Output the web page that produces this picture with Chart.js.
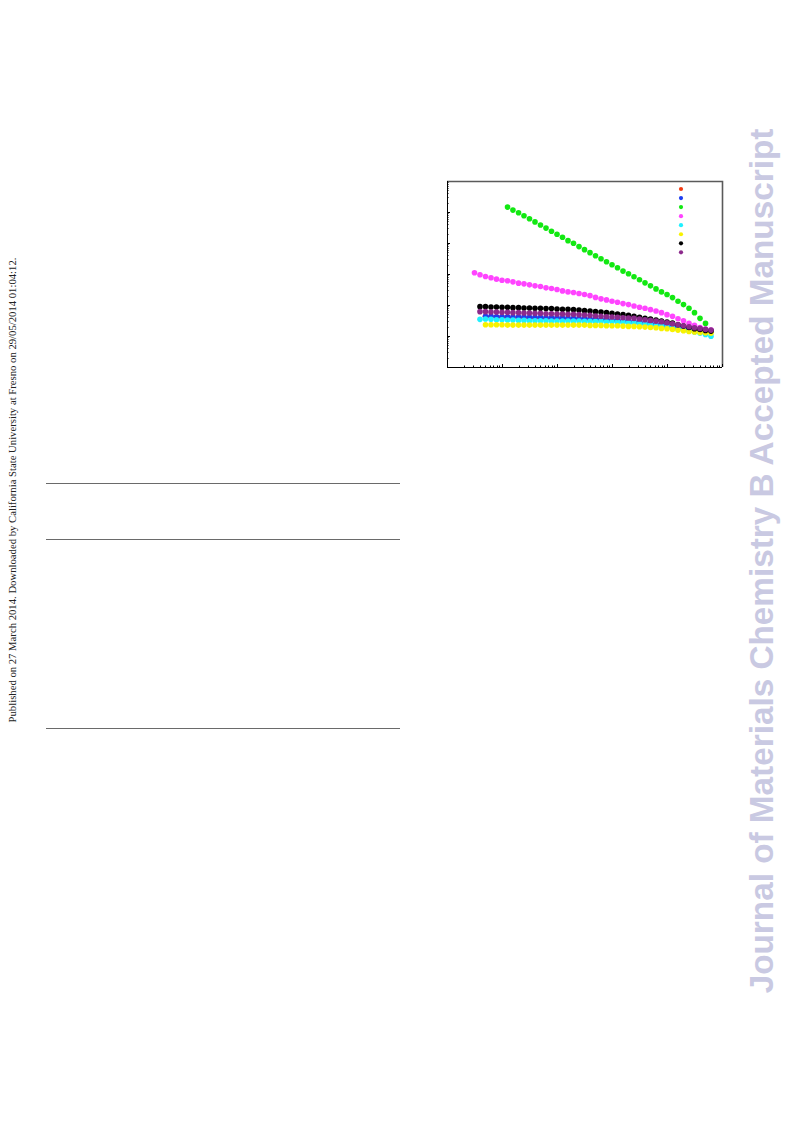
<!DOCTYPE html>
<html>
<head>
<meta charset="utf-8">
<script src="https://cdn.jsdelivr.net/npm/chart.js@4.4.0/dist/chart.umd.min.js"></script>
<style>
  body { margin: 0; background: #fff; width: 793px; height: 1123px; position: relative; overflow: hidden; }
  .rot { position: absolute; white-space: nowrap; transform: translate(-50%, -50%) rotate(-90deg); }
  #pub { left: 12px; top: 490px; font: 10.7px "Liberation Serif", "Times New Roman", serif; color: #222; }
  #journal { left: 762px; top: 561px; font: bold 33.3px "Liberation Sans", Arial, sans-serif; color: #c9c9e2; }
  .rule { position: absolute; left: 46px; width: 354px; height: 0; border-top: 1px solid #6a6a6a; }
  #wrap { position: absolute; left: 437px; top: 171px; }
</style>
</head>
<body>
<div id="pub" class="rot">Published on 27 March 2014. Downloaded by California State University at Fresno on 29/05/2014 01:04:12.</div>
<div id="journal" class="rot">Journal of Materials Chemistry B Accepted Manuscript</div>
<div class="rule" style="top:483px"></div>
<div class="rule" style="top:539px"></div>
<div class="rule" style="top:728px"></div>
<div id="wrap"><canvas id="canvas1" width="295" height="206"></canvas></div>
<script>
// frequency grid, 10 points per decade
var freq = [31.6, 39.8, 50.1, 63.1, 79.4, 100, 126, 158, 200, 251, 316, 398, 501, 631, 794,
    1000, 1259, 1585, 1995, 2512, 3162, 3981, 5012, 6310, 7943,
    10000, 12589, 15849, 19953, 25119, 31623, 39811, 50119, 63096, 79433,
    100000, 125893, 158489, 199526, 251189, 316228, 398107, 501187, 630957];

var seriesColors = ["#f23a12", "#1d3df0", "#12e812", "#ff44ff", "#1ff0ff", "#f8f200", "#000000", "#8c2a8c"];
var seriesStart = [2, 2, 6, 0, 1, 2, 1, 1];

var redVals = [42.0, 41.5, 41.0, 40.5, 40.0, 39.6, 39.2, 38.8, 38.4, 38.0, 37.6, 37.2, 36.8, 36.4, 36.0,
    35.6, 35.2, 34.8, 34.4, 34.0, 33.4, 32.8, 32.1, 31.3, 30.5, 29.6, 28.6, 27.5, 26.4, 25.2,
    24.0, 22.9, 21.8, 20.7, 19.7, 18.7, 17.8, 16.9, 16.1, 15.4, 14.8, 14.3];
var blueVals = [43.1, 43.1, 42.0, 42.0, 42.0, 40.9, 40.9, 40.9, 39.9, 39.9, 39.9, 38.9, 38.9, 38.9, 38.0,
    38.0, 37.1, 37.1, 36.1, 36.1, 35.2, 34.4, 33.6, 32.7, 31.9, 31.1, 30.3, 28.9, 28.2, 26.8,
    25.5, 24.3, 23.1, 22.0, 20.9, 19.9, 18.9, 18.0, 17.1, 16.3, 15.5, 14.8];
var greenVals = [144000, 115000, 94400, 75900, 60300, 47900, 38000, 30200, 24000, 19100,
    15300, 11900, 9800, 7640, 6100, 4880, 3900, 3110, 2490, 1990,
    1590, 1240, 1020, 811, 649, 519, 415, 331, 265, 217,
    173, 132, 103, 78.2, 56.6, 37.1, 25.5];
var magentaVals = [1094, 942, 832, 753, 682, 632, 603, 558, 506, 481, 447, 415, 394, 357, 340,
    316, 285, 265, 252, 234, 218, 200, 176, 158, 146, 132, 122, 111, 103, 93.1,
    84.3, 78.2, 70.8, 64.1, 56.6, 48.8, 43.1, 36.1, 31.1, 25.5, 22.0, 18.9, 16.7, 15.5];
var cyanVals = [34.4, 35.2, 34.4, 33.6, 33.6, 32.7, 32.7, 31.9, 31.9, 31.1, 31.1, 31.1, 31.1, 30.3, 30.3,
    30.3, 30.3, 30.3, 30.3, 29.6, 29.6, 29.6, 29.6, 28.9, 28.9, 28.2, 27.5, 26.8, 26.1, 24.9,
    23.7, 22.5, 21.4, 20.4, 19.4, 18.0, 16.7, 15.5, 14.4, 13.4, 12.4, 11.2, 9.9];
var yellowVals = [23.1, 23.1, 23.1, 23.1, 22.5, 22.5, 22.5, 22.5, 22.5, 22.5, 22.5, 22.5, 22.5, 22.5,
    22.5, 22.5, 22.5, 22.5, 22.5, 22.0, 22.0, 22.0, 21.4, 21.4, 21.4,
    20.9, 20.4, 20.4, 19.9, 19.4, 18.9, 18.5, 17.6, 17.1, 16.3, 15.5, 14.8, 14.0, 13.4, 13.0, 12.7, 12.4];
var blackVals = [88.5, 88.5, 86.3, 86.3, 84.3, 84.3, 82.2, 82.2, 80.2, 80.2, 78.2, 78.2, 76.4, 76.4, 74.5,
    72.6, 72.6, 70.8, 69.0, 65.8, 64.1, 61.0, 59.6, 56.6, 53.8, 51.3, 48.8, 46.3, 43.1, 39.9,
    37.1, 35.2, 32.7, 30.3, 28.2, 26.2, 23.1, 20.9, 18.9, 17.1, 16.3, 15.1, 14.4];
var purpleVals = [61.0, 61.0, 59.4, 59.4, 57.9, 57.9, 56.6, 56.6, 55.2, 55.2, 53.8, 53.8, 52.5, 52.5, 51.2,
    51.2, 50.0, 50.0, 48.8, 47.5, 46.3, 44.2, 43.1, 42.0, 40.9, 39.9, 38.9, 38.0, 37.1, 35.2,
    33.6, 31.9, 30.3, 28.9, 26.8, 24.9, 23.1, 21.4, 19.9, 18.5, 17.6, 16.3, 15.5];

var allVals = [redVals, blueVals, greenVals, magentaVals, cyanVals, yellowVals, blackVals, purpleVals];

var xMin = 10, xMax = 1e6, yMin = 1, yMax = 1e6;

var datasets = allVals.map(function (vals, k) {
    return {
        data: vals.map(function (v, i) { return { x: freq[seriesStart[k] + i], y: v }; }),
        backgroundColor: seriesColors[k],
        borderColor: seriesColors[k],
        borderWidth: 0,
        pointRadius: 2.8,
        order: allVals.length - k   // later series on top
    };
});

// axes, inward ticks, frame and dot legend
var framePlugin = {
    id: 'frame',
    afterDatasetsDraw: function (chart) {
        var c = chart.ctx, a = chart.chartArea;
        var sx = chart.scales.x, sy = chart.scales.y;
        c.save();
        c.strokeStyle = '#5a5a5a';
        c.lineWidth = 1.6;
        c.beginPath();
        c.moveTo(a.left, a.top + 0.5); c.lineTo(a.right + 0.5, a.top + 0.5); c.lineTo(a.right + 0.5, a.bottom);
        c.stroke();
        c.strokeStyle = '#000';
        c.lineWidth = 1;
        c.beginPath();
        c.moveTo(a.left + 0.5, a.top); c.lineTo(a.left + 0.5, a.bottom + 0.5); c.lineTo(a.right, a.bottom + 0.5);
        c.stroke();
        c.beginPath();
        for (var e = 0; e < 6; e++) {
            for (var m = 1; m <= 9; m++) {
                var v = m * Math.pow(10, e);
                if (v >= yMin && v <= yMax) {
                    var py = Math.round(sy.getPixelForValue(v)) + 0.5;
                    c.moveTo(a.left, py); c.lineTo(a.left + (m === 1 ? 3 : 1.5), py);
                }
                var vx = m * Math.pow(10, e + 1);
                if (vx >= xMin && vx <= xMax) {
                    var px = Math.round(sx.getPixelForValue(vx)) + 0.5;
                    c.moveTo(px, a.bottom); c.lineTo(px, a.bottom - (m === 1 ? 3 : 1.5));
                }
            }
        }
        c.stroke();
        for (var k = 0; k < seriesColors.length; k++) {
            c.fillStyle = seriesColors[k];
            c.beginPath();
            c.arc(a.left + 234, a.top + 8 + k * 9.05, 2.1, 0, Math.PI * 2);
            c.fill();
        }
        c.restore();
    }
};

new Chart(document.getElementById("canvas1"), {
    type: 'scatter',
    data: { datasets: datasets },
    options: {
        responsive: false,
        animation: false,
        devicePixelRatio: 1,
        layout: { padding: { left: 10, top: 10, right: 10, bottom: 10 } },
        plugins: { legend: { display: false }, tooltip: { enabled: false } },
        scales: {
            x: { type: 'logarithmic', min: xMin, max: xMax, display: false },
            y: { type: 'logarithmic', min: yMin, max: yMax, display: false }
        }
    },
    plugins: [framePlugin]
});
</script>
</body>
</html>
